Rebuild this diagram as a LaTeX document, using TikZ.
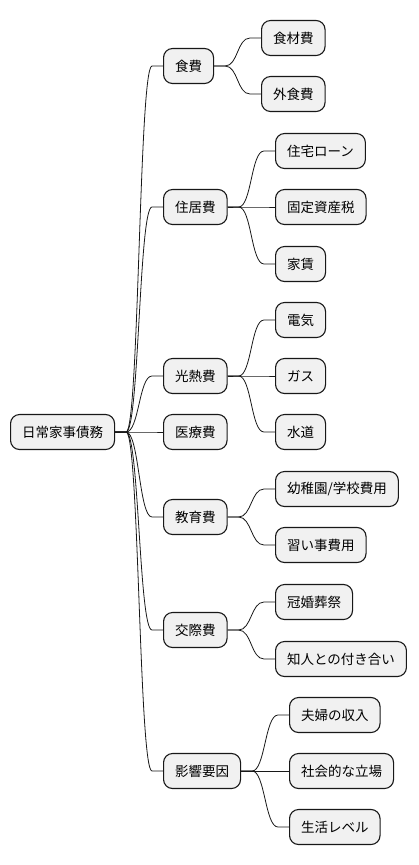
\documentclass[tikz,border=0pt]{standalone}
\usepackage{fontspec}
\setmainfont{Noto Sans CJK JP}
\usetikzlibrary{calc}
\definecolor{boxfill}{HTML}{F1F1F1}
\definecolor{boxline}{HTML}{181818}
\tikzset{
  mmbox/.style={draw=boxline, fill=boxfill, line width=1.1pt, rounded corners=9pt,
    minimum height=35pt, inner xsep=11.5pt, inner ysep=0pt, anchor=west,
    font=\fontsize{13.5pt}{14pt}\selectfont, text=black},
  conn/.style={draw=boxline, line width=0.8pt}
}
\newcommand{\mmconn}[2]{\draw[conn] (#1.east) -- ++(11,0) .. controls +(13,0) and +(-13,0) .. ($(#2.west)+(-11,0)$) -- (#2.west);}
\begin{document}
\begin{tikzpicture}[x=1pt,y=-1pt]
\useasboundingbox (0,0) rectangle (418,865);
\node[mmbox] (root) at (10,432) {日常家事債務};
\node[mmbox] (food) at (163,66) {食費};
\node[mmbox] (house) at (163,207) {住居費};
\node[mmbox] (util) at (163,376) {光熱費};
\node[mmbox] (med) at (163,432) {医療費};
\node[mmbox] (edu) at (163,517) {教育費};
\node[mmbox] (soc) at (163,630) {交際費};
\node[mmbox] (fac) at (163,771) {影響要因};
\node[mmbox] (f1) at (261,38) {食材費};
\node[mmbox] (f2) at (261,94) {外食費};
\node[mmbox] (h1) at (275,151) {住宅ローン};
\node[mmbox] (h2) at (275,207) {固定資産税};
\node[mmbox] (h3) at (275,264) {家賃};
\node[mmbox] (u1) at (275,320) {電気};
\node[mmbox] (u2) at (275,376) {ガス};
\node[mmbox] (u3) at (275,432) {水道};
\node[mmbox] (e1) at (275,489) {幼稚園/学校費用};
\node[mmbox] (e2) at (275,545) {習い事費用};
\node[mmbox] (s1) at (275,602) {冠婚葬祭};
\node[mmbox] (s2) at (275,659) {知人との付き合い};
\node[mmbox] (a1) at (289,715) {夫婦の収入};
\node[mmbox] (a2) at (289,771) {社会的な立場};
\node[mmbox] (a3) at (289,827) {生活レベル};
\foreach \c in {food,house,util,med,edu,soc,fac} {\mmconn{root}{\c}}
\mmconn{food}{f1}\mmconn{food}{f2}
\mmconn{house}{h1}\mmconn{house}{h2}\mmconn{house}{h3}
\mmconn{util}{u1}\mmconn{util}{u2}\mmconn{util}{u3}
\mmconn{edu}{e1}\mmconn{edu}{e2}
\mmconn{soc}{s1}\mmconn{soc}{s2}
\mmconn{fac}{a1}\mmconn{fac}{a2}\mmconn{fac}{a3}
\end{tikzpicture}
\end{document}
